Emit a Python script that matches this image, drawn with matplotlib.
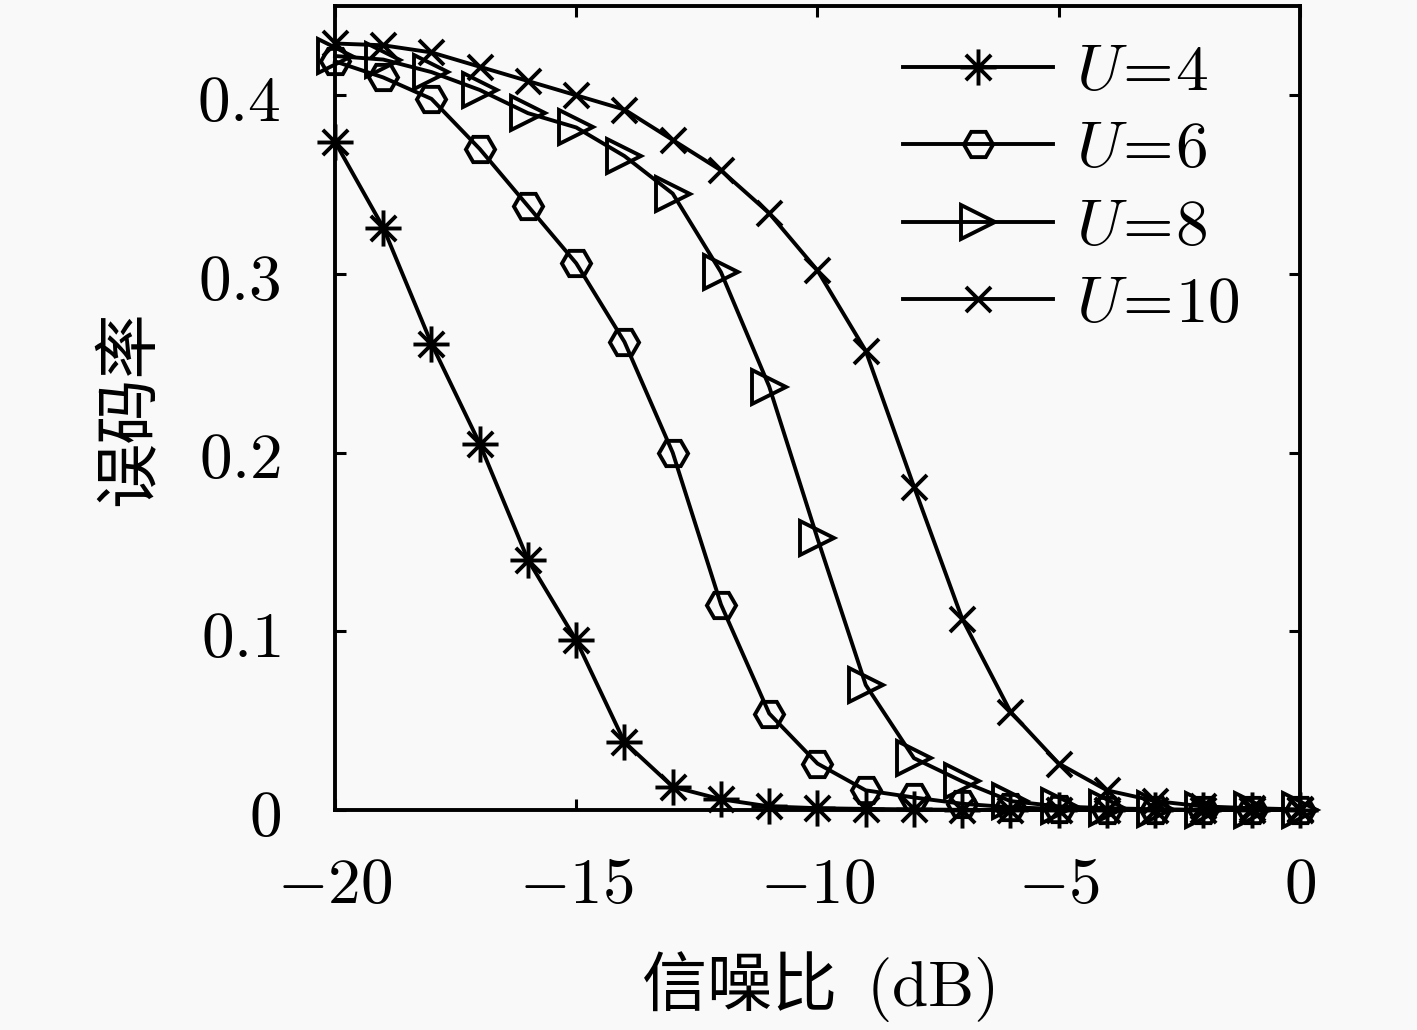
import numpy as np
import matplotlib
matplotlib.use('Agg')
import matplotlib.pyplot as plt
from matplotlib.path import Path

plt.rcParams['mathtext.fontset'] = 'cm'
plt.rcParams['font.family'] = ['Noto Sans CJK SC', 'DejaVu Sans']

snr = [-20, -19, -18, -17, -16, -15, -14, -13, -12, -11, -10,
       -9, -8, -7, -6, -5, -4, -3, -2, -1, 0]

ber_u4 = [0.374, 0.326, 0.261, 0.205, 0.140, 0.095, 0.038, 0.013, 0.006, 0.002, 0.001,
          0.0006, 0.0003, 0.0001, 0, 0, 0, 0, 0, 0, 0]
ber_u6 = [0.419, 0.410, 0.398, 0.370, 0.338, 0.306, 0.262, 0.200, 0.115, 0.054, 0.026,
          0.011, 0.007, 0.0035, 0.0015, 0.0006, 0.0002, 0.0001, 0, 0, 0]
ber_u8 = [0.422, 0.420, 0.413, 0.403, 0.390, 0.382, 0.366, 0.345, 0.301, 0.237, 0.152,
          0.070, 0.029, 0.016, 0.005, 0.002, 0.001, 0.0004, 0.0001, 0, 0]
ber_u10 = [0.429, 0.428, 0.424, 0.416, 0.408, 0.400, 0.392, 0.375, 0.358, 0.334, 0.302,
           0.257, 0.181, 0.107, 0.055, 0.026, 0.011, 0.005, 0.002, 0.001, 0.0003]

labels = [r'$U\!=\!4$', r'$U\!=\!6$', r'$U\!=\!8$', r'$U\!=\!10$']

# matlab style asterisk: long horizontal/vertical arms, shorter diagonals
d = 0.7
star_path = Path(
    [(-1, 0), (1, 0), (0, -1), (0, 1), (-d, -d), (d, d), (-d, d), (d, -d)],
    [Path.MOVETO, Path.LINETO] * 4)

fig = plt.figure(figsize=(14.17, 10.30), dpi=100, facecolor='#f9f9f9')
ax = fig.add_axes([0.2364, 0.2136, 0.681, 0.7806], facecolor='#f9f9f9')

lw = 2.8
ax.plot(snr, ber_u4, color='k', lw=lw, marker=star_path, ms=26, mew=lw,
        fillstyle='none', clip_on=False, label=labels[0])
ax.plot(snr, ber_u6, color='k', lw=lw, marker='H', ms=21, mew=lw,
        fillstyle='none', clip_on=False, label=labels[1])
ax.plot(snr, ber_u8, color='k', lw=lw, marker='>', ms=25, mew=lw,
        fillstyle='none', clip_on=False, label=labels[2])
ax.plot(snr, ber_u10, color='k', lw=lw, marker='x', ms=18, mew=lw,
        clip_on=False, label=labels[3])

ax.set_xlim(-20, 0)
ax.set_ylim(0, 0.45)

xt = [-20, -15, -10, -5, 0]
yt = [0, 0.1, 0.2, 0.3, 0.4]
ax.set_xticks(xt)
ax.set_xticklabels([r'$-20$', r'$-15$', r'$-10$', r'$-5$', r'$0$'], fontsize=47)
ax.set_yticks(yt)
ax.set_yticklabels([r'$0$', r'$0.1$', r'$0.2$', r'$0.3$', r'$0.4$'], fontsize=47)
ax.tick_params(direction='in', length=8, width=2.2, top=True, right=True)
ax.tick_params(axis='y', pad=39)
ax.tick_params(axis='x', pad=30)

for s in ax.spines.values():
    s.set_linewidth(2.8)

ax.set_xlabel(r'信噪比  $(\mathrm{dB})$', fontsize=47, labelpad=22)
ax.set_ylabel('误码率', fontsize=47, labelpad=24)

leg = ax.legend(loc='upper right', bbox_to_anchor=(0.985, 1.017), frameon=False,
                fontsize=47, handlelength=2.3, handletextpad=0.35,
                labelspacing=0.17, borderaxespad=0.3)

fig.savefig('out.png', dpi=100, facecolor=fig.get_facecolor())
